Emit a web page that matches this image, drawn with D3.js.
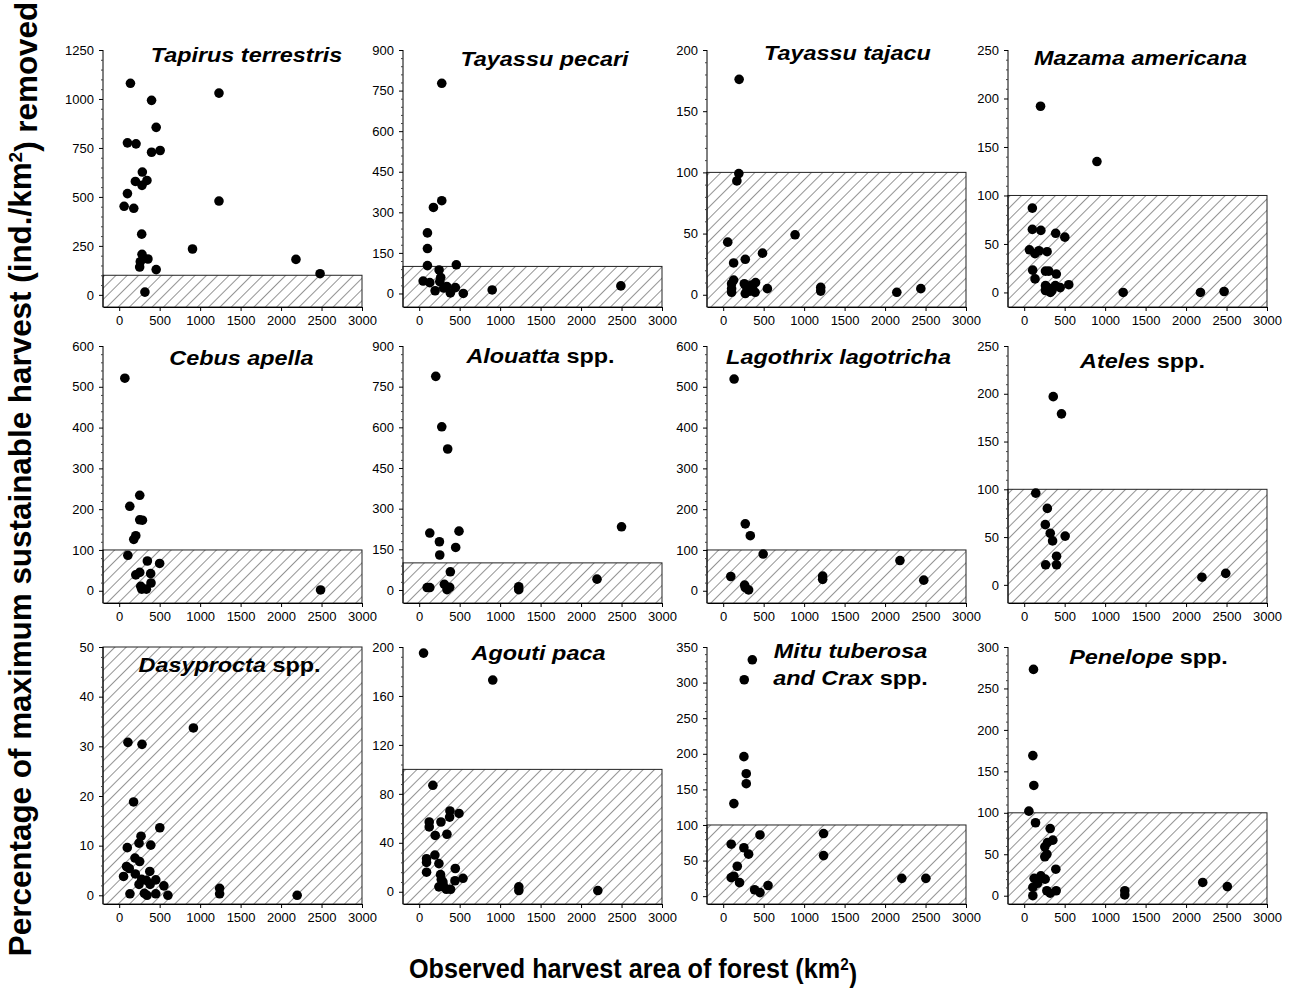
<!DOCTYPE html>
<html>
<head>
<meta charset="utf-8">
<script src="https://cdnjs.cloudflare.com/ajax/libs/d3/7.8.5/d3.min.js"></script>
<style>
  body { margin: 0; background: #fff; }
  text { font-family: "Liberation Sans", Arial, sans-serif; fill: #000; }
</style>
</head>
<body>
<div id="chart"></div>
<script>
var svgWidth = 1294;
var svgHeight = 988;

// Panel titles: lines of [text, italic?]
var speciesTitles = [
  [[["Tapirus terrestris", true]]],
  [[["Tayassu pecari", true]]],
  [[["Tayassu tajacu", true]]],
  [[["Mazama americana", true]]],
  [[["Cebus apella", true]]],
  [[["Alouatta", true], [" spp.", false]]],
  [[["Lagothrix lagotricha", true]]],
  [[["Ateles", true], [" spp.", false]]],
  [[["Dasyprocta", true], [" spp.", false]]],
  [[["Agouti paca", true]]],
  [[["Mitu tuberosa", true]], [["and Crax", true], [" spp.", false]]],
  [[["Penelope", true], [" spp.", false]]]
];

// Observed harvest area (km2) and % of max sustainable harvest removed
var tapirusX = [139, 1233, 400, 457, 102, 208, 400, 506, 286, 200, 343, 282, 102, 61, 180, 1233, 278, 906, 282, 355, 261, 253, 457, 2184, 2482, 318];
var tapirusY = [1080, 1030, 993, 855, 776, 771, 728, 737, 627, 579, 584, 559, 517, 452, 442, 479, 310, 234, 207, 183, 169, 142, 129, 181, 108, 14];

var pecariX = [279, 279, 176, 102, 102, 102, 459, 246, 266, 254, 49, 131, 340, 303, 447, 197, 385, 545, 902, 2492];
var pecariY = [777, 343, 318, 224, 166, 103, 106, 87, 59, 44, 46, 40, 26, 20, 22, 10, 2, 0, 13, 28];

var tajacuX = [197, 193, 169, 56, 888, 486, 273, 129, 129, 104, 104, 104, 261, 293, 273, 361, 394, 330, 400, 350, 546, 1205, 1205, 2145, 2442];
var tajacuY = [176, 99, 93, 43, 49, 34, 29, 26, 12, 9, 5, 2, 9, 5, 1, 6, 2, 3, 10, 8, 5, 6, 3, 2, 5];

var mazamaX = [202, 899, 101, 101, 206, 389, 502, 65, 182, 283, 134, 105, 263, 304, 397, 134, 385, 263, 291, 445, 551, 344, 263, 324, 1223, 2178, 2470];
var mazamaY = [192, 135, 87, 65, 64, 61, 57, 44, 43, 42, 40, 23, 22, 22, 19, 14, 7, 7, 5, 5, 8, 2, 2, 0, 0, 0, 1];

var cebusX = [70, 254, 131, 254, 287, 205, 180, 107, 348, 500, 254, 205, 389, 393, 266, 279, 336, 2488];
var cebusY = [521, 234, 207, 174, 173, 135, 126, 87, 73, 67, 45, 39, 42, 19, 11, 4, 4, 2];

var alouattaX = [205, 279, 352, 2500, 131, 492, 250, 451, 254, 385, 98, 131, 311, 377, 344, 1230, 1230, 2197];
var alouattaY = [788, 602, 520, 233, 210, 217, 178, 157, 129, 67, 9, 9, 21, 10, 1, 12, 1, 40];

var lagothrixX = [135, 273, 335, 494, 94, 265, 273, 314, 1229, 1229, 2184, 2478];
var lagothrixY = [519, 164, 135, 90, 35, 14, 8, 2, 36, 28, 74, 26];

var atelesX = [359, 461, 143, 286, 261, 322, 351, 506, 400, 265, 400, 2196, 2490];
var atelesY = [197, 179, 96, 80, 63, 54, 46, 51, 30, 21, 21, 8, 12];

var dasyproctaX = [108, 282, 917, 178, 502, 270, 245, 390, 100, 195, 253, 91, 124, 54, 199, 378, 278, 336, 452, 245, 382, 552, 133, 311, 344, 452, 602, 1241, 1241, 2199];
var dasyproctaY = [30.8, 30.4, 33.7, 18.8, 13.6, 11.9, 10.5, 10.1, 9.6, 7.5, 6.8, 5.8, 5.4, 3.8, 4.3, 4.8, 3.2, 3.0, 3.1, 2.2, 2.2, 1.9, 0.3, 0.4, 0, 0.3, 0, 1.4, 0.3, 0];

var agoutiX = [54, 909, 169, 124, 124, 269, 380, 376, 492, 198, 343, 194, 91, 91, 244, 91, 264, 446, 273, 293, 442, 541, 244, 335, 388, 298, 1231, 1231, 2207];
var agoutiY = [195, 173, 87, 57, 53, 57, 66, 61, 64, 46, 47, 30, 27, 24, 23, 16, 14, 19, 10, 8, 9, 11, 4, 2, 2, 5, 4, 1, 1];

var mituX = [360, 260, 256, 285, 285, 132, 99, 455, 1240, 1240, 256, 314, 174, 99, 132, 202, 388, 455, 554, 2207, 2504];
var mituY = [332, 304, 196, 172, 158, 130, 73, 86, 88, 57, 68, 59, 42, 26, 28, 19, 9, 5, 15, 25, 25];

var penelopeX = [115, 107, 119, 58, 140, 321, 354, 288, 255, 280, 255, 391, 123, 206, 259, 165, 107, 280, 321, 395, 107, 1243, 1243, 2206, 2510];
var penelopeY = [273, 169, 133, 102, 88, 81, 67, 64, 59, 50, 47, 32, 21, 24, 20, 15, 10, 6, 3, 6, 0, 6, 1, 16, 11];

// y axis extents and tick steps per panel
var yMax = [1250, 900, 200, 250, 600, 900, 600, 250, 50, 200, 350, 300];
var yMin = [-62, -50, -10, -15, -30, -48, -30, -19, -1.75, -10, -11, -10];
var yStep = [250, 150, 50, 50, 100, 150, 100, 50, 10, 40, 50, 50];
var xTicks = [0, 500, 1000, 1500, 2000, 2500, 3000];
var sustainableLimit = 100;

var seriesX = [tapirusX, pecariX, tajacuX, mazamaX, cebusX, alouattaX, lagothrixX, atelesX, dasyproctaX, agoutiX, mituX, penelopeX];
var seriesY = [tapirusY, pecariY, tajacuY, mazamaY, cebusY, alouattaY, lagothrixY, atelesY, dasyproctaY, agoutiY, mituY, penelopeY];

// Layout
var colLeft = [103, 403, 707, 1008];
var rowTop = [50, 346, 647];
var plotW = 259;
var plotH = 257;
var titleDx = [14, 12, 11, 3, 9, 8, 2, 5, -3, 6, 14, 11];
var titleDy = [12, 16, 10, 15, 19, 17, 18, 22, 25, 13, 11, 17];

var svg = d3.select("#chart")
  .append("svg")
  .attr("width", svgWidth)
  .attr("height", svgHeight);

// diagonal hatch for the sustainable zone
svg.append("defs").append("pattern")
  .attr("id", "hatch")
  .attr("patternUnits", "userSpaceOnUse")
  .attr("width", 8)
  .attr("height", 8)
  .attr("patternTransform", "rotate(45)")
  .append("line")
    .attr("x1", 0).attr("y1", 0)
    .attr("x2", 0).attr("y2", 8)
    .attr("stroke", "#111")
    .attr("stroke-width", 0.9);

seriesX.forEach(function(xs, i) {
  var col = i % 4, row = Math.floor(i / 4);
  var g = svg.append("g")
    .attr("transform", `translate(${colLeft[col]}, ${rowTop[row]})`);

  var xScale = d3.scaleLinear().domain([-200, 3000]).range([0, plotW]);
  var yScale = d3.scaleLinear().domain([yMin[i], yMax[i]]).range([plotH, 0]);

  // hatched box up to 100%
  var boxTop = yScale(Math.min(sustainableLimit, yMax[i]));
  g.append("rect")
    .attr("x", 0)
    .attr("y", boxTop)
    .attr("width", plotW)
    .attr("height", plotH - boxTop)
    .attr("fill", "url(#hatch)")
    .attr("stroke", "#222")
    .attr("stroke-width", 1);

  // axes
  var majors = d3.range(0, yMax[i] + yStep[i] / 2, yStep[i]);
  var minors = d3.range(0, yMax[i] + 1e-9, yStep[i] / 5).filter(function(v) {
    return majors.indexOf(v) < 0;
  });

  var bottomAxis = d3.axisBottom(xScale)
    .tickValues(xTicks).tickFormat(d3.format("d"))
    .tickSize(4).tickSizeOuter(0).tickPadding(5);
  var leftAxis = d3.axisLeft(yScale)
    .tickValues(majors).tickFormat(d3.format("d"))
    .tickSize(4).tickSizeOuter(0).tickPadding(5);
  var minorAxis = d3.axisLeft(yScale)
    .tickValues(minors).tickSize(2).tickFormat("");

  var xa = g.append("g")
    .attr("transform", `translate(0, ${plotH})`)
    .call(bottomAxis);
  var ya = g.append("g").call(leftAxis);
  var ym = g.append("g").call(minorAxis);
  ym.select(".domain").remove();
  ya.select(".domain").attr("d", `M0,${plotH}V0`);

  [xa, ya].forEach(function(a) {
    a.attr("font-size", null).attr("font-family", null);
    a.selectAll("text").style("font-size", "13px").attr("fill", "#000");
    a.selectAll("line, path").attr("stroke", "#000");
  });
  ym.selectAll("line").attr("stroke", "#444");

  // points
  g.selectAll("circle")
    .data(xs.map(function(v, k) { return [v, seriesY[i][k]]; }))
    .enter()
    .append("circle")
    .attr("cx", d => xScale(d[0]))
    .attr("cy", d => yScale(d[1]))
    .attr("r", 4.8)
    .attr("fill", "#000");

  // title
  speciesTitles[i].forEach(function(line, li) {
    var t = g.append("text")
      .attr("transform", `translate(${plotW / 2 + titleDx[i]}, ${titleDy[i] + li * 27}) scale(1.17, 1)`)
      .attr("text-anchor", "middle")
      .style("font-size", "20px")
      .style("font-weight", "bold");
    line.forEach(function(part) {
      t.append("tspan")
        .style("font-style", part[1] ? "italic" : "normal")
        .text(part[0]);
    });
  });
});

// axis titles
var yTitle = svg.append("text")
  .attr("transform", "translate(31, 479) rotate(-90)")
  .attr("text-anchor", "middle")
  .style("font-size", "31.4px")
  .style("font-weight", "bold");
yTitle.append("tspan").text("Percentage of maximum sustainable harvest (ind./km");
yTitle.append("tspan").attr("dy", "-0.45em").style("font-size", "19px").text("2");
yTitle.append("tspan").attr("dy", "0.45em").text(") removed");

var xTitle = svg.append("text")
  .attr("transform", "translate(633, 978) scale(0.9, 1)")
  .attr("text-anchor", "middle")
  .style("font-size", "28px")
  .style("font-weight", "bold");
xTitle.append("tspan").text("Observed harvest area of forest (km");
xTitle.append("tspan").attr("dy", "-0.45em").style("font-size", "17px").text("2");
xTitle.append("tspan").attr("dy", "0.45em").text(")");
</script>
</body>
</html>
